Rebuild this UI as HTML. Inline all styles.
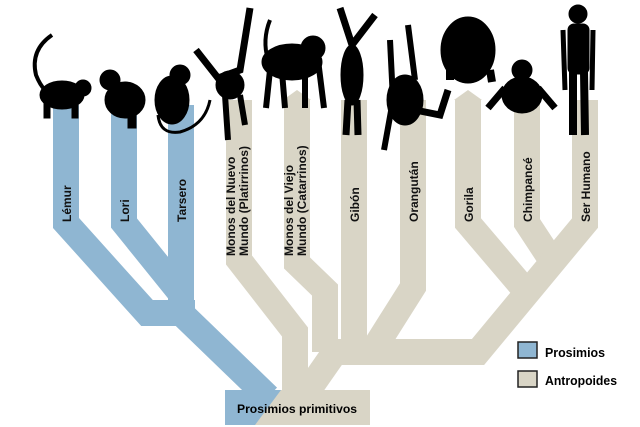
<!DOCTYPE html>
<html><head><meta charset="utf-8"><style>
html,body{margin:0;padding:0;background:#fff;}
svg{display:block;}
text{font-family:"Liberation Sans",sans-serif;font-weight:bold;}
</style></head><body>
<svg width="640" height="427" viewBox="0 0 640 427" xmlns="http://www.w3.org/2000/svg">
<g fill="none" stroke-width="26" stroke-linejoin="miter" stroke-linecap="butt">
  <g stroke="#d9d5c6">
    <path d="M239,100 V260 L295,332 V395"/>
    <path d="M297,100 V263 L325,290 V352"/>
    <path d="M354,100 V352"/>
    <path d="M413,100 V287 L372,352"/>
    <path d="M468,100 V223 L525,290"/>
    <path d="M527,100 V223 L550,258"/>
    <path d="M585,100 V223 L478,352 H330"/>
    <path d="M335,352 L305,395"/>
  </g>
  <g stroke="#8fb6d2">
    <path d="M66,105 V223 L147,313 H195"/>
    <path d="M124,105 V223 L178,290"/>
    <path d="M181,105 V313 L268,397"/>
  </g>
</g>
<polygon points="283,100 297,90 311,100" fill="#d9d5c6"/>
<polygon points="454,100 468,90 482,100" fill="#d9d5c6"/>
<rect x="225" y="390" width="145" height="35" fill="#d9d5c6"/>
<polygon points="225,390 281,390 255,425 225,425" fill="#8fb6d2"/>
<text x="297" y="413" font-size="11.5" text-anchor="middle" textLength="120" lengthAdjust="spacingAndGlyphs">Prosimios primitivos</text>
<g font-size="12" fill="#111">
  <text transform="translate(71,222) rotate(-90)">Lémur</text>
  <text transform="translate(129,222) rotate(-90)">Lori</text>
  <text transform="translate(186,222) rotate(-90)">Tarsero</text>
  <text transform="translate(235,256) rotate(-90)">Monos del Nuevo</text>
  <text transform="translate(248,256) rotate(-90)">Mundo  (Platirrinos)</text>
  <text transform="translate(293,256) rotate(-90)">Monos del Viejo</text>
  <text transform="translate(306,256) rotate(-90)">Mundo  (Catarrinos)</text>
  <text transform="translate(359,222) rotate(-90)">Gibón</text>
  <text transform="translate(418,222) rotate(-90)">Orangután</text>
  <text transform="translate(473,222) rotate(-90)">Gorila</text>
  <text transform="translate(532,222) rotate(-90)">Chimpancé</text>
  <text transform="translate(590,222) rotate(-90)">Ser Humano</text>
</g>
<rect x="518" y="342" width="19" height="16" fill="#8fb6d2" stroke="#222" stroke-width="1.5"/>
<rect x="518" y="371" width="19" height="16" fill="#d9d5c6" stroke="#222" stroke-width="1.5"/>
<text x="545" y="357" font-size="12.5" textLength="60" lengthAdjust="spacingAndGlyphs">Prosimios</text>
<text x="545" y="385" font-size="12.5" textLength="72" lengthAdjust="spacingAndGlyphs">Antropoides</text>
<g fill="#000" stroke="#000">
  <path d="M52,35 Q30,50 36,75 Q40,85 45,90" fill="none" stroke-width="4"/>
  <ellipse cx="62" cy="95" rx="22" ry="14"/>
  <circle cx="83" cy="88" r="8"/>
  <rect x="44" y="100" width="6" height="18"/><rect x="72" y="100" width="6" height="18"/>
  <ellipse cx="125" cy="100" rx="20" ry="18"/>
  <circle cx="110" cy="80" r="10"/>
  <rect x="128" y="110" width="8" height="18"/>
  <ellipse cx="172" cy="100" rx="17" ry="24"/>
  <circle cx="180" cy="75" r="10"/>
  <path d="M158,115 Q160,135 180,132 Q205,125 210,100" fill="none" stroke-width="3"/>
  <path d="M196,50 L218,78 L240,70 L250,8" fill="none" stroke-width="7"/>
  <ellipse cx="230" cy="85" rx="14" ry="14"/>
  <path d="M225,95 L228,140 M240,95 L245,125" fill="none" stroke-width="6"/>
  <path d="M270,20 Q262,40 268,60" fill="none" stroke-width="4"/>
  <ellipse cx="292" cy="62" rx="30" ry="18"/>
  <circle cx="313" cy="48" r="12"/>
  <path d="M270,70 L266,108 M282,72 L285,108 M305,70 L305,108 M318,60 L324,108" fill="none" stroke-width="6"/>
  <path d="M340,8 L352,45 L375,15" fill="none" stroke-width="7"/>
  <ellipse cx="352" cy="75" rx="11" ry="30"/>
  <path d="M348,100 L346,135 M357,100 L358,135" fill="none" stroke-width="7"/>
  <path d="M390,40 L393,100 L384,150 M408,25 L415,80" fill="none" stroke-width="6"/>
  <ellipse cx="405" cy="100" rx="18" ry="25"/>
  <path d="M415,110 L440,115 L448,90" fill="none" stroke-width="7"/>
  <ellipse cx="468" cy="50" rx="27" ry="33"/>
  <path d="M450,70 L450,80 M490,70 L492,82" stroke-width="8"/>
  <circle cx="522" cy="70" r="10"/>
  <ellipse cx="522" cy="95" rx="20" ry="18"/>
  <path d="M505,88 L488,108 M538,88 L555,108" fill="none" stroke-width="7"/>
  <circle cx="578" cy="14" r="9"/>
  <rect x="568" y="24" width="21" height="50" rx="6"/>
  <path d="M563,30 L565,90 M593,30 L592,90" fill="none" stroke-width="5"/>
  <path d="M573,72 L573,135 M584,72 L585,135" fill="none" stroke-width="8"/>
</g>
</svg>
</body></html>
